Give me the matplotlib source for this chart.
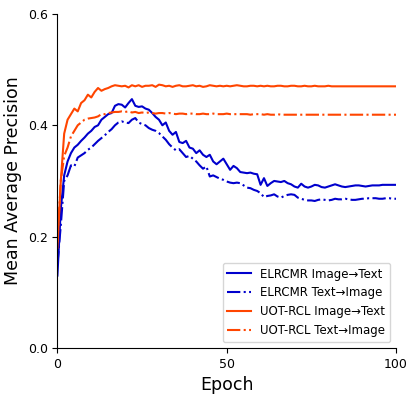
import matplotlib
matplotlib.use('Agg')
import matplotlib.pyplot as plt

epochs = list(range(101))

elrcmr_i2t = [
    0.130, 0.250, 0.310, 0.335, 0.350, 0.360, 0.365, 0.372, 0.378, 0.385,
    0.390, 0.397, 0.400, 0.410, 0.415, 0.420, 0.422, 0.435, 0.438, 0.437,
    0.432, 0.440, 0.447, 0.435, 0.433, 0.434, 0.430, 0.428, 0.422, 0.415,
    0.410, 0.400, 0.405, 0.390, 0.383, 0.388, 0.370, 0.368, 0.372, 0.360,
    0.358, 0.350, 0.355, 0.347, 0.343, 0.347, 0.335, 0.330, 0.335, 0.340,
    0.330, 0.320, 0.327, 0.323, 0.316, 0.315, 0.314, 0.315, 0.313, 0.312,
    0.293, 0.305, 0.291, 0.296, 0.300, 0.299, 0.298, 0.300, 0.296, 0.294,
    0.290, 0.288, 0.295, 0.290, 0.288, 0.290, 0.293, 0.292, 0.289, 0.288,
    0.290, 0.292, 0.294, 0.292, 0.290, 0.289, 0.290, 0.291, 0.292, 0.292,
    0.291, 0.290, 0.291, 0.292, 0.292, 0.292, 0.293, 0.293, 0.293, 0.293,
    0.293,
]

elrcmr_t2i = [
    0.150, 0.220, 0.300, 0.310, 0.328, 0.326, 0.342, 0.346, 0.350, 0.356,
    0.360, 0.366, 0.372, 0.377, 0.382, 0.388, 0.393, 0.400, 0.405, 0.407,
    0.405, 0.404, 0.410, 0.413, 0.405, 0.402, 0.400, 0.395, 0.392, 0.390,
    0.386, 0.380, 0.374, 0.366, 0.360, 0.355, 0.357, 0.350, 0.343, 0.345,
    0.340, 0.335, 0.328, 0.322, 0.326, 0.308, 0.310, 0.307, 0.304, 0.302,
    0.299, 0.297, 0.296, 0.297, 0.296, 0.292, 0.288, 0.287, 0.284, 0.282,
    0.278, 0.271, 0.273, 0.274, 0.276, 0.272, 0.270, 0.273, 0.275, 0.276,
    0.275, 0.270, 0.268, 0.266, 0.265, 0.265, 0.264, 0.266, 0.267, 0.266,
    0.265, 0.266, 0.268, 0.267, 0.267, 0.268, 0.267, 0.266, 0.266, 0.267,
    0.268, 0.268, 0.269, 0.269, 0.269, 0.268, 0.268, 0.269, 0.269, 0.268,
    0.268,
]

uot_i2t = [
    0.180, 0.300, 0.385, 0.410, 0.420, 0.430, 0.425, 0.440, 0.445, 0.455,
    0.450, 0.460, 0.467, 0.462, 0.465, 0.467, 0.470, 0.472, 0.471, 0.470,
    0.471, 0.468, 0.472, 0.470, 0.472, 0.469, 0.471, 0.471, 0.472, 0.469,
    0.473, 0.472, 0.470, 0.471, 0.469, 0.471, 0.472, 0.470, 0.470, 0.471,
    0.472, 0.470, 0.471, 0.469, 0.470, 0.472, 0.471, 0.470, 0.471, 0.470,
    0.471, 0.470, 0.471, 0.472, 0.471, 0.470, 0.470, 0.471, 0.471, 0.470,
    0.471, 0.470, 0.471, 0.470, 0.470, 0.471, 0.471, 0.470, 0.470, 0.471,
    0.471, 0.470, 0.470, 0.471, 0.470, 0.470, 0.471, 0.470, 0.470, 0.470,
    0.471, 0.470, 0.470, 0.470, 0.470, 0.470, 0.470, 0.470, 0.470, 0.470,
    0.470, 0.470, 0.470, 0.470, 0.470, 0.470, 0.470, 0.470, 0.470, 0.470,
    0.470,
]

uot_t2i = [
    0.190, 0.300, 0.345, 0.360, 0.380, 0.390, 0.400, 0.405, 0.410, 0.412,
    0.413, 0.414, 0.416, 0.420, 0.420, 0.422, 0.423, 0.424, 0.424, 0.425,
    0.424, 0.425, 0.423, 0.424, 0.422, 0.423, 0.422, 0.423, 0.422, 0.421,
    0.422, 0.422, 0.421, 0.422, 0.421, 0.420, 0.421, 0.421, 0.420, 0.421,
    0.421, 0.420, 0.420, 0.421, 0.420, 0.420, 0.421, 0.420, 0.420, 0.420,
    0.421, 0.420, 0.420, 0.420, 0.420, 0.420, 0.420, 0.419, 0.420, 0.420,
    0.420, 0.419, 0.420, 0.419, 0.419, 0.420, 0.419, 0.419, 0.419, 0.419,
    0.419, 0.419, 0.419, 0.419, 0.419, 0.419, 0.419, 0.419, 0.419, 0.419,
    0.419, 0.419, 0.419, 0.419, 0.419, 0.419, 0.419, 0.419, 0.419, 0.419,
    0.419, 0.419, 0.419, 0.419, 0.419, 0.419, 0.419, 0.419, 0.419, 0.419,
    0.419,
]

labels = ['ELRCMR Image→Text', 'ELRCMR Text→Image',
          'UOT-RCL Image→Text', 'UOT-RCL Text→Image']

BLUE = '#0000CD'
ORANGE = '#FF4500'


def main():
    fig = plt.figure(figsize=(4.16, 3.99), dpi=100)
    ax = fig.add_axes([0.138, 0.128, 0.814, 0.837])

    ax.plot(epochs, elrcmr_i2t, color=BLUE, lw=1.5, ls='-', label=labels[0])
    ax.plot(epochs, elrcmr_t2i, color=BLUE, lw=1.5, ls='-.', label=labels[1])
    ax.plot(epochs, uot_i2t, color=ORANGE, lw=1.5, ls='-', label=labels[2])
    ax.plot(epochs, uot_t2i, color=ORANGE, lw=1.5, ls='-.', label=labels[3])

    ax.set_xlim(0, 100)
    ax.set_ylim(0, 0.6)
    ax.set_xticks([0, 50, 100])
    ax.set_yticks([0.0, 0.2, 0.4, 0.6])
    ax.tick_params(labelsize=9)
    ax.spines['top'].set_visible(False)
    ax.spines['right'].set_visible(False)

    ax.set_xlabel('Epoch', fontsize=12.5)
    ax.set_ylabel('Mean Average Precision', fontsize=12.5)
    ax.legend(loc='lower right', fontsize=8.5)

    fig.savefig('out.png', dpi=100)


if __name__ == '__main__':
    main()
